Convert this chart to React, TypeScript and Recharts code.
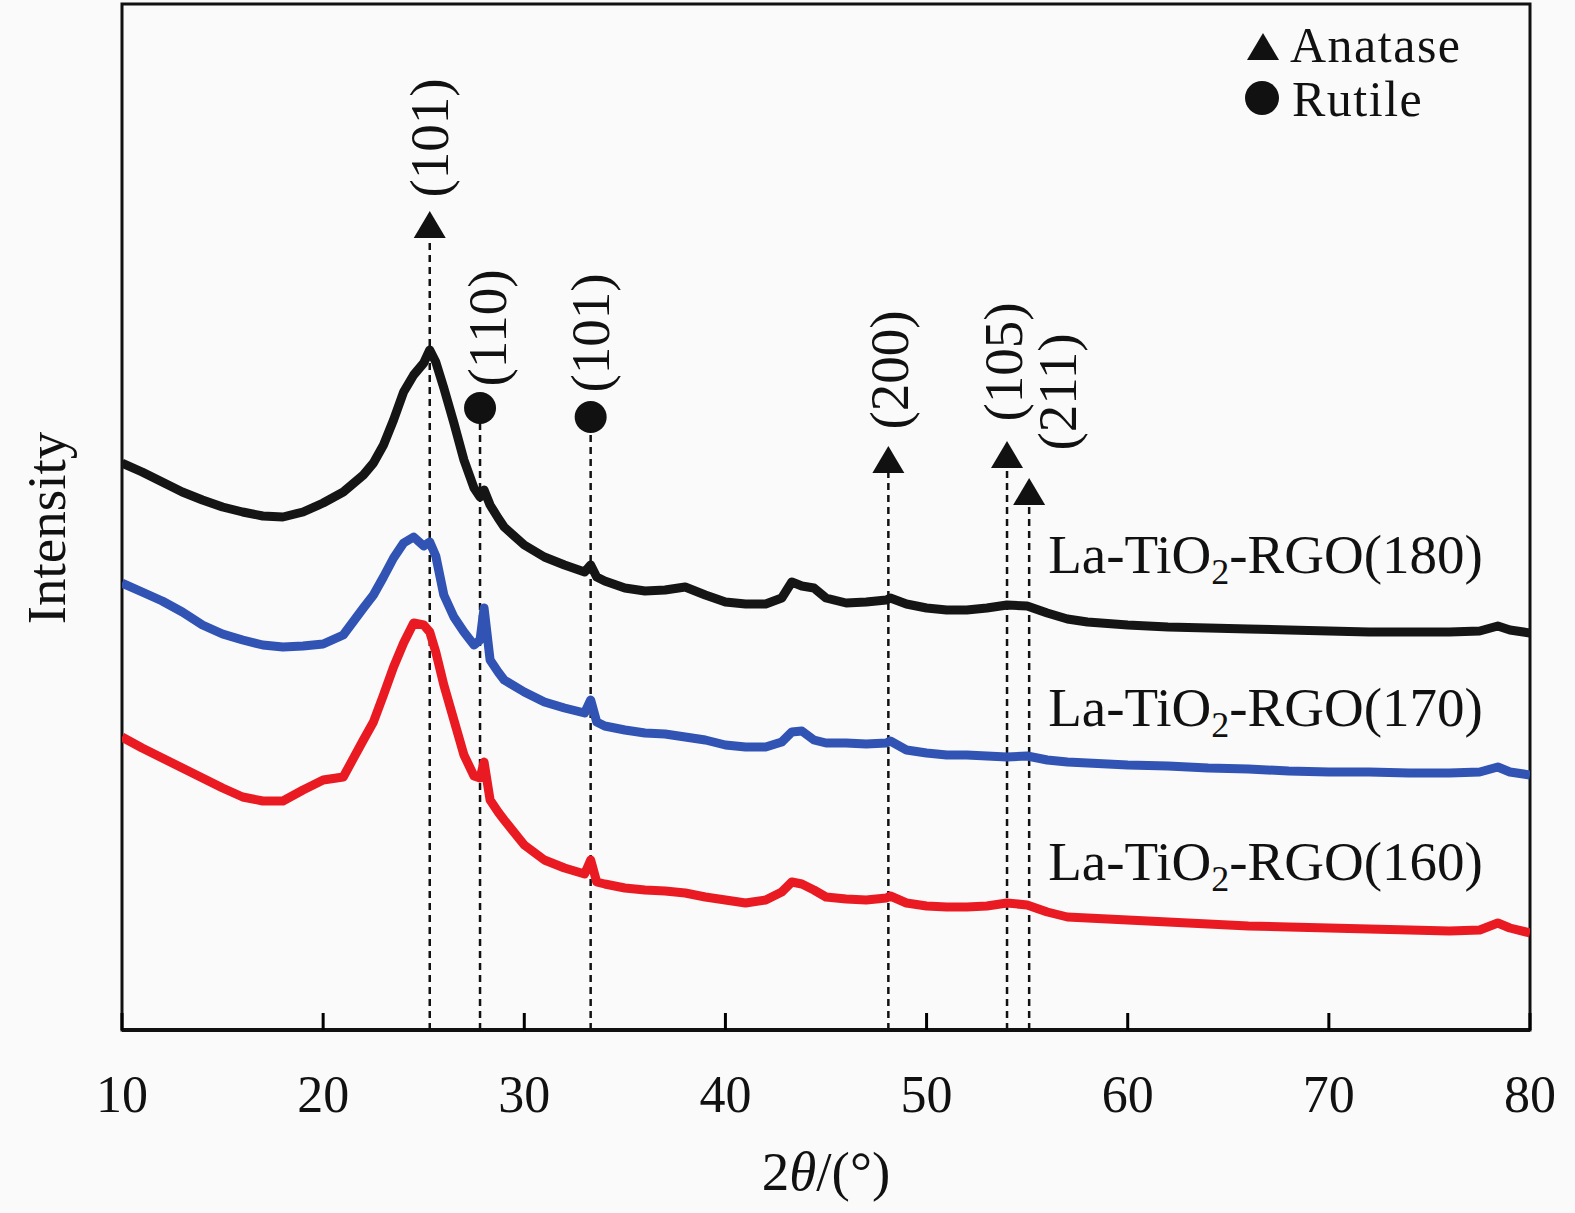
import React from 'react';
import {
  ComposedChart, Line, Scatter, XAxis, YAxis, ReferenceLine, ReferenceArea, Label
} from 'recharts';

const SERIF = '"Liberation Serif", "Times New Roman", serif';

// 2θ sampling positions (deg)
const theta = [
  10, 11, 12, 13, 14, 15, 16, 17, 18, 19, 20, 21, 22, 22.5, 23, 23.5, 24, 24.5, 25, 25.3,
  25.6, 26, 26.5, 27, 27.5, 27.8, 28, 28.3, 28.7, 29, 30, 31, 32, 33, 33.3, 33.6, 34, 35,
  36, 37, 38, 39, 40, 41, 42, 42.8, 43.3, 43.8, 44.4, 45, 46, 47, 48, 48.2, 49, 50, 51, 52,
  53, 54, 55, 56, 57, 58, 60, 62, 64, 66, 68, 70, 72, 74, 76, 77.5, 78.4, 79, 80,
];

// intensities (a.u., stacked offsets as in the figure)
const s180 = [
  567, 558, 548, 538, 530, 523, 518, 514, 513, 518, 527, 538, 555, 567, 585, 610, 638, 655, 667, 680,
  668, 642, 607, 570, 542, 533, 540, 525, 512, 503, 485, 473, 465, 458, 465, 453, 449, 442,
  439, 440, 443, 435, 428, 426, 426, 432, 448, 444, 442, 432, 427, 428, 430, 432, 426, 422, 420, 420,
  422, 425, 424, 417, 411, 408, 405, 403, 402, 401, 400, 399, 398, 398, 398, 399, 404, 400, 397,
];
const s170 = [
  447, 438, 429, 418, 405, 396, 390, 385, 383, 384, 386, 395, 422, 435, 453, 472, 487, 493, 484, 488,
  474, 435, 413, 398, 385, 390, 422, 370, 358, 350, 338, 328, 322, 317, 330, 308, 304, 300,
  297, 296, 293, 290, 285, 283, 283, 288, 298, 299, 290, 287, 287, 286, 287, 289, 280, 277, 275, 275,
  274, 273, 274, 270, 268, 267, 265, 264, 262, 261, 259, 258, 258, 257, 257, 258, 263, 258, 255,
];
const s160 = [
  293, 282, 272, 262, 252, 242, 233, 229, 229, 240, 250, 253, 290, 308, 335, 363, 387, 407, 405, 398,
  378, 345, 310, 275, 254, 252, 268, 230, 218, 210, 185, 170, 162, 156, 170, 148, 146, 142,
  140, 139, 137, 133, 130, 127, 130, 138, 148, 146, 140, 133, 131, 130, 132, 134, 127, 124, 123, 123,
  124, 127, 125, 118, 113, 112, 110, 108, 106, 104, 103, 102, 101, 100, 99, 100, 107, 102, 97,
];

const xTicks = [10, 20, 30, 40, 50, 60, 70, 80];

// reflection markers
const peakTheta = [25.3, 27.8, 33.3, 48.1, 54.0, 55.1];
const peakPhase = ['A', 'R', 'R', 'A', 'A', 'A'];
const peakHkl = ['(101)', '(110)', '(101)', '(200)', '(105)', '(211)'];
const peakMarkH = [805, 622, 613, 570, 575, 538];
const peakLabelTheta = [25.3, 28.15, 33.3, 48.15, 53.8, 56.5];
const peakLabelH = [892, 702, 697, 660, 668, 638];

// sample names
const sampleTemps = ['180', '170', '160'];
const sampleLabelH = [476, 323, 169];
const sampleLabelTheta = 56.05;

const rows = theta.map((t, i) => ({ theta: t, s180: s180[i], s170: s170[i], s160: s160[i] }));
const marks = peakTheta.map((t, i) => ({ theta: t, h: peakMarkH[i], phase: peakPhase[i] }));
const hklRows = peakTheta.map((_, i) => ({ theta: peakLabelTheta[i], h: peakLabelH[i], hkl: peakHkl[i] }));
const nameRows = sampleTemps.map((s, i) => ({ theta: sampleLabelTheta, h: sampleLabelH[i], temp: s }));

const Triangle = ({ cx, cy }: any) => (
  <polygon points={`${cx - 16},${cy + 13} ${cx + 16},${cy + 13} ${cx},${cy - 14}`} fill="#111" />
);

const PeakMark = (props: any) => {
  const { cx, cy, payload } = props;
  if (payload.phase === 'A') return <Triangle cx={cx} cy={cy} />;
  return <circle cx={cx} cy={cy} r={16} fill="#111" />;
};

const HklText = (props: any) => {
  const { cx, cy, payload } = props;
  return (
    <text x={cx} y={cy} transform={`rotate(-90 ${cx} ${cy})`} textAnchor="middle"
      dominantBaseline="central" fontSize={55} fontFamily={SERIF} fill="#111">
      {payload.hkl}
    </text>
  );
};

const NameText = (props: any) => {
  const { cx, cy, payload } = props;
  return (
    <text x={cx} y={cy + 19} fontSize={55} fontFamily={SERIF} fill="#111">
      La-TiO<tspan fontSize={36} dy={11}>2</tspan>
      <tspan dy={-11}>-RGO({payload.temp})</tspan>
    </text>
  );
};

// tick label plus its own inward tick mark, drawn from the axis line upward
const Tick = ({ x, payload, viewBox }: any) => {
  const axisY = 1030;
  return (
    <g>
      <path d={`M${x},${axisY} L${x},${axisY - 17}`} stroke="#000" strokeWidth={3} fill="none" />
      <text x={x} y={axisY + 82} textAnchor="middle" fontSize={52} fontFamily={SERIF} fill="#111">
        {payload.value}
      </text>
    </g>
  );
};

const XTitle = ({ viewBox }: any) => (
  <text x={viewBox.x + viewBox.width / 2} y={viewBox.y + 160} textAnchor="middle"
    fontSize={55} fontFamily={SERIF} fill="#111">
    2<tspan fontStyle="italic">θ</tspan>/(°)
  </text>
);

const YTitle = ({ viewBox }: any) => {
  const x = viewBox.x + viewBox.width - 76;
  const y = viewBox.y + viewBox.height / 2 + 11;
  return (
    <text x={x} y={y} transform={`rotate(-90 ${x} ${y})`} textAnchor="middle"
      dominantBaseline="central" fontSize={55} fontFamily={SERIF} fill="#111">
      Intensity
    </text>
  );
};

export default function App() {
  return (
    <div style={{ position: 'absolute', left: 0, top: 0, width: 1575, height: 1213, background: '#fafafa' }}>
      <ComposedChart width={1575} height={1213} data={rows}
        margin={{ top: 4, right: 45, bottom: 0, left: 102 }}>
        <XAxis dataKey="theta" type="number" domain={[10, 80]} ticks={xTicks} height={183}
          axisLine={{ stroke: '#111', strokeWidth: 4 }} tickLine={false}
          tick={<Tick />} allowDataOverflow>
          <Label content={<XTitle />} />
        </XAxis>
        <YAxis type="number" domain={[0, 1026]} width={20} tick={false} tickLine={false}
          axisLine={false} allowDataOverflow>
          <Label content={<YTitle />} />
        </YAxis>

        <ReferenceArea x1={10} x2={80} y1={0} y2={1026} fill="none" fillOpacity={0}
          stroke="#111" strokeWidth={3} ifOverflow="visible" />

        {marks.map((m, i) => (
          <ReferenceLine key={'d' + i}
            segment={[{ x: m.theta, y: 0 }, { x: m.theta, y: m.h - (m.phase === 'A' ? 13 : 15) }]}
            stroke="#111" strokeWidth={2.5} strokeDasharray="7 5" />
        ))}

        <Line dataKey="s180" stroke="#151515" strokeWidth={9} dot={false} type="linear"
          strokeLinejoin="round" isAnimationActive={false} />
        <Line dataKey="s170" stroke="#3053b4" strokeWidth={9} dot={false} type="linear"
          strokeLinejoin="round" isAnimationActive={false} />
        <Line dataKey="s160" stroke="#ea1a22" strokeWidth={9} dot={false} type="linear"
          strokeLinejoin="round" isAnimationActive={false} />

        <Scatter data={marks} dataKey="h" shape={<PeakMark />} isAnimationActive={false} />
        <Scatter data={hklRows} dataKey="h" shape={<HklText />} isAnimationActive={false} />
        <Scatter data={nameRows} dataKey="h" shape={<NameText />} isAnimationActive={false} />
      </ComposedChart>

      <svg width={340} height={130} style={{ position: 'absolute', left: 1230, top: 0 }}>
        <Triangle cx={33} cy={47} />
        <text x={60} y={62} fontSize={50} letterSpacing={1.5} fontFamily={SERIF} fill="#111">Anatase</text>
        <circle cx={32} cy={98} r={17} fill="#111" />
        <text x={62} y={116} fontSize={50} letterSpacing={1.5} fontFamily={SERIF} fill="#111">Rutile</text>
      </svg>
    </div>
  );
}
